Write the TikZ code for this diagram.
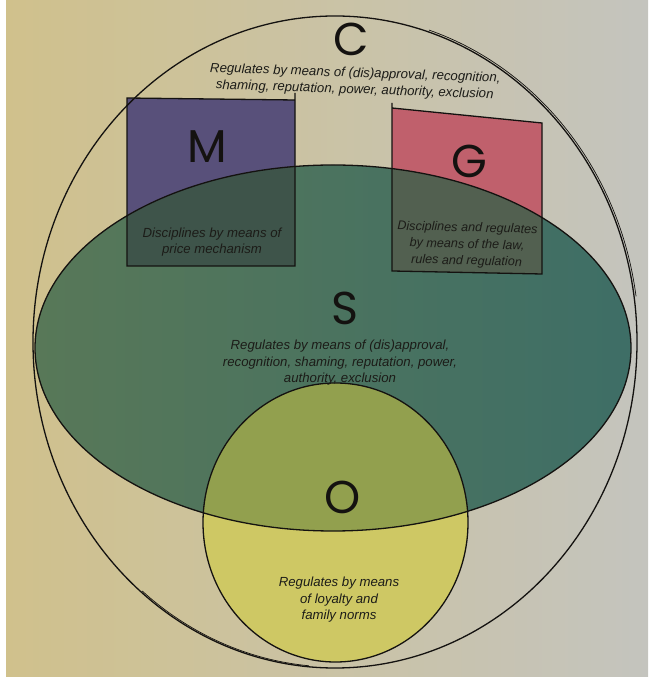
\documentclass[tikz,border=0pt]{standalone}
\usepackage{fontspec}
\setmainfont{Liberation Sans}
\newfontfamily\bigletterfont{Poppins}
\definecolor{paperL}{RGB}{208,193,140}
\definecolor{paperM}{RGB}{202,197,174}
\definecolor{paperR}{RGB}{196,196,190}
\definecolor{mpurple}{RGB}{88,80,122}
\definecolor{gpink}{RGB}{192,96,108}
\definecolor{sgreenL}{RGB}{88,120,88}
\definecolor{sgreenR}{RGB}{62,110,102}
\definecolor{msdark}{RGB}{62,84,74}
\definecolor{gsdark}{RGB}{82,96,80}
\definecolor{oyellow}{RGB}{206,200,100}
\definecolor{osolive}{RGB}{146,160,78}
\definecolor{textc}{RGB}{28,28,24}
\definecolor{linec}{RGB}{20,18,16}
\def\Spath{(333,329) ellipse [x radius=298, y radius=183]}
\def\Mpath{(127,579) -- (295,577) -- (295,411) -- (127,411) -- cycle}
\def\Gpath{(392,569) -- (542,554) -- (542,403) -- (392,406) -- cycle}
\def\Opath{(335.5,154.5) ellipse [x radius=132.5, y radius=139.5]}
\tikzset{
  outline/.style={draw=linec, line width=1.3pt},
  txt/.style={font=\fontsize{13.2}{16.5}\selectfont\itshape, align=center, text=textc, inner sep=0pt},
  bigletter/.style={font=\bigletterfont\fontsize{46}{46}\selectfont, text=linec, inner sep=0pt}
}
\begin{document}
\begin{tikzpicture}[x=1pt,y=1pt]
\useasboundingbox (0,0) rectangle (648,677);
\fill[white] (0,0) rectangle (648,677);
\shade[left color=paperL, middle color=paperM, right color=paperR] (6,0) rectangle (648,677);
% fills
\fill[mpurple] \Mpath;
\fill[gpink] \Gpath;
\fill[oyellow] \Opath;
\shade[left color=sgreenL, right color=sgreenR] \Spath;
\begin{scope}
  \clip \Spath;
  \fill[msdark] \Mpath;
  \fill[gsdark] \Gpath;
  \fill[osolive] \Opath;
\end{scope}
% outlines
\draw[outline] (295,584) -- (295,411) -- (127,411) -- (127,579) -- (295,577);
\draw[outline] (392,574) -- (392,406) -- (542,403) -- (542,554) -- (392,569);
\draw[outline] \Spath;
\draw[outline] \Opath;
\draw[outline] (335,335) ellipse [x radius=302, y radius=326];
\draw[draw=linec, line width=0.7pt] (335,335) ++(72:304 and 328) arc [start angle=72, end angle=8, x radius=304, y radius=328];
\draw[draw=linec, line width=0.7pt] (335,335) ++(-95:300 and 325) arc [start angle=-95, end angle=-130, x radius=300, y radius=325];
% letters
\node[bigletter] (C) at (351,638) {C};
\node[bigletter] (M) at (207,530) {M};
\node[bigletter] (G) at (469,516) {G};
\node[bigletter] (S) at (345,369) {S};
\node[bigletter] (O) at (343,180) {O};
% texts
\node[txt, rotate=-2] (ctext) at (355,595) {Regulates by means of (dis)approval, recognition,\\shaming, reputation, power, authority, exclusion};
\node[txt] (mtext) at (212,435) {Disciplines by means of\\price mechanism};
\node[txt, rotate=-1.5, font=\fontsize{12.6}{16.5}\selectfont\itshape] (gtext) at (467,432) {Disciplines and regulates\\by means of the law,\\rules and regulation};
\node[txt] (stext) at (340,314) {Regulates by means of (dis)approval,\\recognition, shaming, reputation, power,\\authority, exclusion};
\node[txt] (otext) at (339,77) {Regulates by means\\of loyalty and\\family norms};
\end{tikzpicture}
\end{document}
